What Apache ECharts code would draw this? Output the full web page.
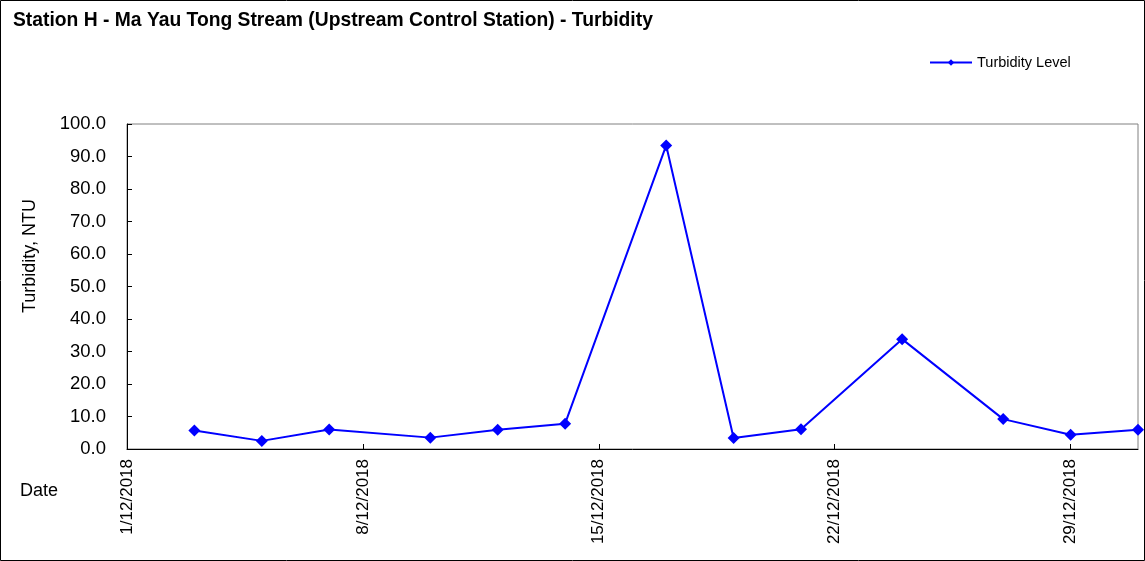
<!DOCTYPE html>
<html>
<head>
<meta charset="utf-8">
<script src="https://cdn.jsdelivr.net/npm/echarts@6/dist/echarts.min.js"></script>
<style>
html,body{margin:0;padding:0;background:#fff;}
#c{width:1145px;height:561px;}
</style>
</head>
<body>
<div id="c"></div>
<script>
// Data
var dates = ['3/12/2018','5/12/2018','7/12/2018','10/12/2018','12/12/2018','14/12/2018','17/12/2018','19/12/2018','21/12/2018','24/12/2018','27/12/2018','29/12/2018','31/12/2018'];
var turbidity = [5.7, 2.5, 6.0, 3.5, 5.9, 7.8, 93.4, 3.4, 6.1, 33.8, 9.2, 4.4, 5.9];
var xStartDay = 1;   // 1/12/2018
var xEndDay = 31;    // 31/12/2018
var yTicks = [0,10,20,30,40,50,60,70,80,90,100];

var FONT = "'Liberation Sans', Arial, sans-serif";

// convert d/12/2018 to offset in days from 1/12/2018
function dayOffset(s){ return parseInt(s.split('/')[0],10) - xStartDay; }
var seriesData = dates.map(function(d,i){ return [dayOffset(d), turbidity[i]]; });

var chart = echarts.init(document.getElementById('c'), null, {renderer:'canvas'});
chart.setOption({
  backgroundColor:'#fff',
  animation:false,
  title:{
    text:'Station H - Ma Yau Tong Stream (Upstream Control Station) - Turbidity',
    left:8, top:6,
    textStyle:{fontFamily:FONT, fontSize:19.3, fontWeight:'bold', color:'#000'}
  },
  legend:{
    left:924, top:50,
    itemWidth:42, itemHeight:8, itemGap:5,
    textStyle:{fontFamily:FONT, fontSize:14.5, color:'#000'},
    data:['Turbidity Level']
  },
  grid:{
    left:127, top:124, right:7, bottom:112,
    show:true, borderColor:'#808080', borderWidth:1, backgroundColor:'#fff'
  },
  xAxis:{
    type:'value',
    min:0, max:xEndDay - xStartDay, interval:7,
    axisLine:{show:true, lineStyle:{color:'#000', width:1}},
    axisTick:{show:true, inside:true, length:5, lineStyle:{color:'#000'}},
    splitLine:{show:false},
    axisLabel:{
      rotate:90, margin:10,
      fontFamily:FONT, fontSize:17, color:'#000',
      showMaxLabel:false,
      formatter:function(v){ return (v + xStartDay) + '/12/2018'; }
    }
  },
  yAxis:{
    type:'value',
    min:yTicks[0], max:yTicks[yTicks.length-1], interval:10,
    axisLine:{show:true, lineStyle:{color:'#000', width:1}},
    axisTick:{show:true, inside:true, length:5, lineStyle:{color:'#000'}},
    splitLine:{show:false},
    axisLabel:{
      margin:21, fontFamily:FONT, fontSize:18.5, color:'#000',
      formatter:function(v){ return v.toFixed(1); }
    }
  },
  graphic:[
    {type:'rect', silent:true, z:100, shape:{x:0.5,y:0.5,width:1144,height:560},
     style:{fill:null, stroke:'#000', lineWidth:1}},
    {type:'text', x:30, y:256, rotation:Math.PI/2,
     style:{text:'Turbidity, NTU', fontFamily:FONT, fontSize:18, fill:'#000', align:'center', verticalAlign:'middle'}},
    {type:'text', x:20, y:491,
     style:{text:'Date', fontFamily:FONT, fontSize:18, fill:'#000', align:'left', verticalAlign:'middle'}}
  ],
  series:[{
    name:'Turbidity Level',
    type:'line',
    data:seriesData,
    symbol:'diamond',
    symbolSize:12,
    showAllSymbol:true,
    clip:false,
    lineStyle:{color:'#0000FF', width:2},
    itemStyle:{color:'#0000FF'}
  }]
});
</script>
</body>
</html>
